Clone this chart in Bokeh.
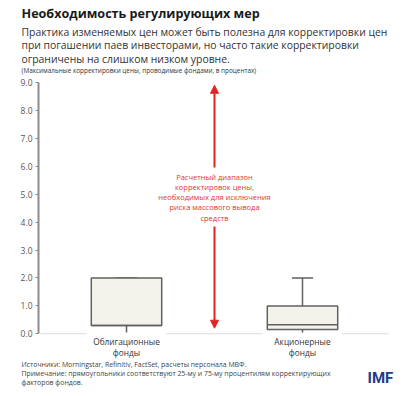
from bokeh.plotting import figure
from bokeh.models import Range1d, Label, Arrow, NormalHead, FixedTicker, LinearAxis, PrintfTickFormatter
from bokeh.embed import file_html
from bokeh.resources import INLINE

# ---- data ----
categories = [["Облигационные", "фонды"], ["Акционерные", "фонды"]]
cat_pos = [1, 3]
lower = [0.05, 0.05]
q1 = [0.3, 0.15]
median = [0.3, 0.32]
q3 = [2.0, 1.0]
upper = [2.0, 2.0]
y_ticks = [0, 1, 2, 3, 4, 5, 6, 7, 8, 9]
range_arrow = [0.2, 8.9]  # estimated range of price adjustments
range_text = ["Расчетный диапазон", "корректировок цены,", "необходимых для исключения",
              "риска массового вывода", "средств"]

title = "Необходимость регулирующих мер"
subtitle = ["Практика изменяемых цен может быть полезна для корректировки цен",
            "при погашении паев инвесторами, но часто такие корректировки",
            "ограничены на слишком низком уровне."]
units = "(Максимальные корректировки цены, проводимые фондами, в процентах)"
notes = ["Источники: Morningstar, Refinitiv, FactSet, расчеты персонала МВФ.",
         "Примечание: прямоугольники соответствуют 25-му и 75-му процентилям корректирующих",
         "факторов фондов."]

FONT = "Open Sans"
W, H = 410, 396
L, T, B = 38, 82, 333.3          # page px of y-axis line, of 9.0 and of 0.0
PPU = (B - T) / 9                 # px per y unit
PXU = 88                          # px per x unit
X0 = L                            # page px of x = 0


def xd(px):
    return (px - X0) / PXU


def yd(py):
    return (B - py) / PPU


p = figure(width=W, height=H, output_backend="svg", toolbar_location=None,
           x_range=Range1d(xd(0), xd(W)), y_range=Range1d(yd(H), yd(0)),
           min_border=0, x_axis_location=None, y_axis_location=None)
p.outline_line_color = None
p.grid.visible = False

ya = LinearAxis(ticker=FixedTicker(ticks=y_ticks), formatter=PrintfTickFormatter(format="%.1f"),
                bounds=(0, 9), fixed_location=0)
ya.axis_line_color = "#8c8c8c"
ya.axis_line_width = 2
ya.major_tick_line_color = "#8c8c8c"
ya.major_tick_in = 0
ya.major_tick_out = 3
ya.minor_tick_line_color = None
ya.major_label_text_font = FONT
ya.major_label_text_font_size = "8.5px"
ya.major_label_text_color = "#555555"
ya.major_label_standoff = 3
p.add_layout(ya, "left")

bw = 0.8
gap = 0.05
seg_x0 = [0.02] + [c + bw / 2 + gap for c in cat_pos]
seg_x1 = [c - bw / 2 - gap for c in cat_pos] + [3.98]
p.segment(x0=seg_x0, y0=[0] * 3, x1=seg_x1, y1=[0] * 3, line_color="#dcdcdc", line_width=1)

box_line = "#616161"
p.segment(x0=cat_pos, y0=q3, x1=cat_pos, y1=upper, line_color=box_line, line_width=1.5)
p.segment(x0=cat_pos, y0=lower, x1=cat_pos, y1=q1, line_color=box_line, line_width=1.5)
cw = 0.24
p.segment(x0=[c - cw / 2 for c in cat_pos], y0=upper, x1=[c + cw / 2 for c in cat_pos], y1=upper,
          line_color=box_line, line_width=1.5)
p.quad(left=[c - bw / 2 for c in cat_pos], right=[c + bw / 2 for c in cat_pos], bottom=q1, top=q3,
       fill_color="#f3f2eb", line_color=box_line, line_width=1.5)
p.segment(x0=[c - bw / 2 for c in cat_pos], y0=median, x1=[c + bw / 2 for c in cat_pos], y1=median,
          line_color=box_line, line_width=1.5)

# category labels
for c, lines in zip(cat_pos, categories):
    for j, t in enumerate(lines):
        p.add_layout(Label(x=c, y=yd(340.5 + j * 11), text=t, text_align="center",
                           text_baseline="middle", text_font=FONT, text_font_size="8.3px",
                           text_color="#333333"))

# red range arrow
RED = "#e02424"
ax = 2.0
gap_top, gap_bot = yd(167), yd(226)
for ys, ye in ((gap_top, range_arrow[1]), (gap_bot, range_arrow[0])):
    p.add_layout(Arrow(x_start=ax, y_start=ys, x_end=ax, y_end=ye, line_color=RED, line_width=2,
                       end=NormalHead(size=8, fill_color=RED, line_color=RED)))
for i, t in enumerate(range_text):
    p.add_layout(Label(x=ax, y=yd(176 + i * 10.3), text=t, text_align="center",
                       text_baseline="middle", text_font=FONT, text_font_size="7.5px",
                       text_color="#e8332e"))

# titles
p.add_layout(Label(x=xd(21), y=yd(13), text=title, text_baseline="middle", text_font=FONT,
                   text_font_size="12.6px", text_font_style="bold", text_color="#1a1a1a"))
for i, t in enumerate(subtitle):
    p.add_layout(Label(x=xd(21), y=yd(31 + i * 13.5), text=t, text_baseline="middle", text_font=FONT,
                       text_font_size="10.4px", text_color="#333333"))
p.add_layout(Label(x=xd(21), y=yd(70), text=units, text_baseline="middle", text_font=FONT,
                   text_font_size="6.4px", text_color="#333333"))

# notes
for i, t in enumerate(notes):
    p.add_layout(Label(x=xd(21), y=yd(364 + i * 8.8), text=t, text_baseline="middle", text_font=FONT,
                       text_font_size="6.9px", text_color="#444444"))
p.add_layout(Label(x=xd(367), y=yd(377), text="IMF", text_baseline="middle", text_font="Roboto",
                   text_font_size="15px", text_font_style="bold", text_color="#1f3c88"))

open("out.html", "w").write(file_html(p, INLINE))
